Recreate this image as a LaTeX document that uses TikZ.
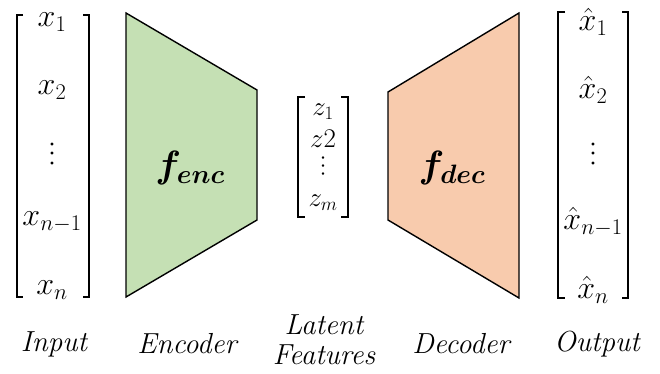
\RequirePackage{fix-cm}
\documentclass[tikz,border=0pt]{standalone}
\usepackage{amsmath}
\usepackage{amssymb}
\usepackage{bm}
\usepackage{tikz}
\usetikzlibrary{positioning,calc}
\definecolor{encgreen}{HTML}{C5E0B4}
\definecolor{decorange}{HTML}{F8CBAD}
\newcommand{\coldots}{\rotatebox{-90}{$\bm{\ldots}$}}

\begin{document}
\begin{tikzpicture}[x=1pt,y=-1pt,
	entry/.style={font=\fontsize{32}{34}\selectfont},
	zentry/.style={font=\fontsize{27}{28}\selectfont},
	dotsnode/.style={font=\fontsize{#1}{#1}\selectfont},
	caption/.style={font=\fontsize{29}{30}\selectfont\itshape, align=center},
	block/.style={draw=black, line width=1.4pt, line join=miter},
	brack/.style={line width=1.6pt}]
	\useasboundingbox (0,0) rectangle (660,374);
	% input vector
	\node[entry] (x1) at (52,22) {$x_1$};
	\node[entry] (x2) at (52,90) {$x_2$};
	\node[dotsnode=19] (xd) at (52,154) {\coldots};
	\node[entry] (xn1) at (52,222) {$x_{n-1}$};
	\node[entry] (xn) at (52,290) {$x_n$};
	\draw[brack] (23,15) -- (17,15) -- (17,297) -- (23,297);
	\draw[brack] (83,15) -- (89,15) -- (89,297) -- (83,297);
	% encoder
	\draw[block, fill=encgreen] (126,13) -- (257,90) -- (257,220) -- (126,297) -- cycle;
	\node[font=\fontsize{38}{40}\selectfont] (fenc) at (190,168) {$\bm{f}_{\bm{enc}}$};
	% latent features
	\node[zentry] (z1) at (323,112) {$z_1$};
	\node[zentry] (z2) at (323,139) {$z2$};
	\node[dotsnode=16] (zd) at (323,166) {\coldots};
	\node[zentry] (zm) at (323,203) {$z_m$};
	\draw[brack] (305,97) -- (298,97) -- (298,217) -- (305,217);
	\draw[brack] (341,97) -- (348,97) -- (348,217) -- (341,217);
	% decoder
	\draw[block, fill=decorange] (388,92) -- (519,13) -- (519,298) -- (388,220) -- cycle;
	\node[font=\fontsize{38}{40}\selectfont] (fdec) at (452,168) {$\bm{f}_{\bm{dec}}$};
	% output vector
	\node[entry] (y1) at (593,22) {$\hat{x}_1$};
	\node[entry] (y2) at (593,90) {$\hat{x}_2$};
	\node[dotsnode=19] (yd) at (593,154) {\coldots};
	\node[entry] (yn1) at (593,222) {$\hat{x}_{n-1}$};
	\node[entry] (yn) at (593,290) {$\hat{x}_n$};
	\draw[brack] (565,12) -- (558,12) -- (558,298) -- (565,298);
	\draw[brack] (622,12) -- (628,12) -- (628,298) -- (622,298);
	% captions
	\node[caption] (input) at (54,344) {Input};
	\node[caption] (encoder) at (187,344) {Encoder};
	\node[caption] (latent) at (324,340) {Latent\\Features};
	\node[caption] (decoder) at (461,344) {Decoder};
	\node[caption] (output) at (597,344) {Output};
\end{tikzpicture}
\end{document}
